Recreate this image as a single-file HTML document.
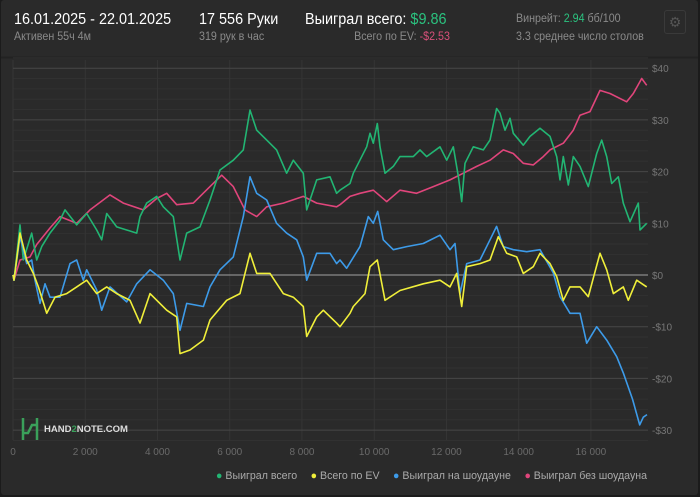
<!DOCTYPE html>
<html><head><meta charset="utf-8"><style>
body{margin:0;background:#1b1b1b;font-family:"Liberation Sans","DejaVu Sans",sans-serif;}
#card{position:absolute;left:1px;top:0;width:697px;height:495px;background:#2a2a2a;border-radius:3px;overflow:hidden}
.t{position:absolute;white-space:nowrap}
.c{transform:scaleX(0.93);transform-origin:left center}
</style></head><body>
<div id="card">
<div class="t c" style="left:13px;top:11px;font-size:15.5px;color:#fff">16.01.2025 - 22.01.2025</div>
<div class="t c" style="left:13px;top:31px;font-size:11.5px;color:#8a8a8a">Активен 55ч 4м</div>
<div class="t c" style="left:198px;top:11px;font-size:15.5px;color:#fff">17 556 Руки</div>
<div class="t c" style="left:198px;top:31px;font-size:11.5px;color:#8a8a8a">319 рук в час</div>
<div class="t c" style="left:304px;top:11px;font-size:15.5px;color:#fff">Выиграл всего: <span style="color:#2bc27f">$9.86</span></div>
<div class="t" style="left:346px;top:31px;font-size:11.5px;color:#8a8a8a;width:101px;text-align:right;transform:scaleX(0.93);transform-origin:right center">Всего по EV: <span style="color:#d9507a">-$2.53</span></div>
<div class="t c" style="left:515px;top:13px;font-size:11.5px;color:#8a8a8a">Винрейт: <span style="color:#2bc27f">2.94</span> бб/100</div>
<div class="t c" style="left:515px;top:31px;font-size:11.5px;color:#8a8a8a">3.3 среднее число столов</div>
<div class="t" style="left:663px;top:10px;width:20px;height:22px;border:1px solid #3a3a3a;border-radius:3px;color:#555;font-size:14px;text-align:center;line-height:22px">⚙</div>
<svg id="chart" width="697" height="497" style="position:absolute;left:0;top:0"></svg>
<div class="t" style="left:20px;top:418px;display:flex;align-items:center">
<svg width="18" height="22"><path d="M2 0v22M16 0v22M2 15h5l4-8h5" stroke="#3aa05a" stroke-width="2.5" fill="none"/></svg>
<span style="font-size:9.5px;font-weight:bold;color:#ddd;margin-left:5px">HAND<span style="color:#3aa05a">2</span>NOTE.COM</span></div>
<div class="t" style="left:215px;top:470px;font-size:11px;color:#aaa;display:flex;gap:14px;transform:scaleX(0.965);transform-origin:left center">
<span><span style="color:#22b573">●</span> Выиграл всего</span>
<span><span style="color:#f0ef3a">●</span> Всего по EV</span>
<span><span style="color:#3d9be9">●</span> Выиграл на шоудауне</span>
<span><span style="color:#e0457b">●</span> Выиграл без шоудауна</span>
</div>
</div>
<script>
const xTicks=[0,2000,4000,6000,8000,10000,12000,14000,16000];
const yTicks=[40,30,20,10,0,-10,-20,-30];
const greenH=[0,28,194,286,517,655,794,1024,1301,1440,1763,2040,2317,2455,2594,2871,3148,3424,3516,3701,3978,4162,4438,4624,4808,5177,5454,5731,6100,6376,6561,6746,7023,7299,7576,7761,8038,8130,8407,8776,8960,9053,9330,9422,9791,9884,9976,10087,10161,10299,10530,10714,11083,11268,11452,11822,12007,12191,12330,12422,12514,12745,13021,13206,13390,13482,13621,13759,13852,14129,14313,14590,14867,15052,15144,15236,15374,15513,15698,15928,16160,16298,16436,16575,16758,16897,17082,17312,17359,17544];
const greenV=[0,-1,9.7,2.9,8.1,2.9,5.5,8.1,10.6,12.6,9.7,11.9,8.7,6.8,11.9,9.3,8.7,8.1,11.3,13.9,15.2,13.2,11.3,2.9,8.1,9.3,14.5,20.3,22.2,24.2,31.9,28,26.1,24.2,19.7,22.2,19.7,12.6,18.4,19,15.8,16.4,17.7,19.7,24.8,27.4,25.5,29.3,24.8,19.7,21,22.9,22.9,24.2,22.9,24.8,22.2,24.8,19,14.2,21.6,24.8,24.2,26.1,32.2,31.3,28,30.3,27.4,25.1,26.8,28.4,26.8,22.9,18.4,22.9,17.4,22.9,21,17.1,23.5,26.1,22.9,17.7,19,13.9,10.3,13.9,8.7,10];
const pinkH=[0,28,194,471,655,1024,1301,1763,2132,2686,3055,3608,3978,4254,4531,4993,5454,5777,6100,6423,6746,7023,7484,8038,8407,8960,9053,9330,9607,9976,10345,10714,11175,11637,12099,12468,12837,13206,13575,13852,14129,14406,14682,14867,15236,15513,15698,15975,16252,16529,16990,17174,17405,17544];
const pinkV=[0,-1,2.9,3.5,5.9,9.1,11.3,10,12.6,15.5,13.9,12.6,14.8,15.8,13.6,13.9,17.1,19.3,17.1,12.6,11.3,13.2,13.9,15.2,13.9,13.2,13.6,15.2,15.8,16.4,14.2,16.4,15.8,17.1,18.4,19.7,21,22.2,24.2,23.5,21.6,21.3,22.9,24.2,25.5,28,30.9,31.6,35.7,35.1,33.5,35.1,38,36.7];
const blueH=[0,28,194,379,517,609,748,886,1024,1301,1578,1763,1947,2040,2317,2455,2686,3148,3424,3793,4162,4438,4624,4808,5270,5454,5731,6100,6376,6561,6746,7023,7299,7576,7853,8038,8130,8407,8776,8960,9053,9237,9607,9837,9976,10096,10253,10530,10899,11360,11822,12099,12237,12376,12560,12930,13206,13390,13575,13852,14221,14590,14959,15144,15421,15698,15882,16160,16436,16713,16900,17150,17350,17450,17552];
const blueV=[0,-1,7.4,2.2,2.9,-1,-5.5,-1.7,-4.3,-4.3,2.2,2.9,-1,1,-2.9,-6.8,-2.3,-5.2,-1.7,1,-1,-3.6,-10.7,-5.5,-6.1,-2.3,1,3.5,11.3,19,15.8,14.5,10,8.1,6.8,3.5,-1,4.2,4.2,2.2,2.9,1.3,5.5,11.3,10,12.3,6.8,4.9,5.5,6.1,7.7,4.9,6.1,-3.6,2.2,2.9,6.8,9.4,5.5,4.9,4.5,4.9,0.4,-4.2,-7.4,-7.4,-13.2,-10,-12.6,-15.8,-19,-24,-29,-27.5,-27];
const yelH=[0,28,194,379,563,702,932,1163,1486,1763,2040,2317,2594,2871,3240,3516,3793,4254,4531,4624,4901,5270,5454,5916,6285,6561,6746,7115,7484,7761,8038,8130,8407,8591,8960,9053,9330,9422,9745,9884,10087,10299,10714,11360,11822,12099,12284,12422,12560,12930,13206,13437,13667,13944,14129,14406,14590,14867,15052,15236,15421,15698,15928,16252,16436,16621,16897,17036,17267,17544];
const yelV=[0,-1,8.1,2.9,0.3,-2.3,-7.4,-4.3,-3.6,-2.3,-1,-3.6,-2.3,-3.6,-4.9,-9.3,-3.6,-6.8,-8.1,-15.2,-14.5,-12.6,-8.7,-4.9,-3.6,4.2,0.3,0.3,-3.6,-4.3,-6.1,-11.9,-8.1,-6.8,-9.3,-10,-7.4,-6.1,-3.6,1.6,2.9,-4.9,-3,-1.7,-1,-2.3,0.3,-6.1,1.6,2.2,2.9,7.4,4.2,3.5,0.3,1.6,4.2,2.2,-0.3,-4.9,-2.3,-2.3,-4.2,4.2,1,-3.6,-2.3,-4.9,-1,-2.3];
const NS='http://www.w3.org/2000/svg';
const svg=document.getElementById('chart');
const X0=12,PX=0.03612,Y0=275,PY=5.17,L=12,R=647,T=60,B=440;
function sx(h){return X0+h*PX;}
function sy(v){return Y0-v*PY;}
function el(tag,a){const e=document.createElementNS(NS,tag);for(const k in a)e.setAttribute(k,a[k]);svg.appendChild(e);return e;}
const hdr=el('line',{x1:0,x2:697,y1:57.5,y2:57.5,stroke:'#222','stroke-width':2});


for(let v=-32;v<=42;v+=2){if(v%10===0)continue;const ln=el('line',{x1:L,x2:R,y1:sy(v),y2:sy(v),stroke:'#313131','stroke-width':1});

}
xTicks.forEach(h=>{const ln=el('line',{x1:sx(h),x2:sx(h),y1:T,y2:B,stroke:'#353535'});


const t=el('text',{x:sx(h),y:455,fill:'#6a6a6a','font-size':10,'text-anchor':'middle','font-family':'Liberation Sans'});t.textContent=h===0?'0':(h/1000)+' 000';

});
yTicks.forEach(v=>{const ln=el('line',{x1:L,x2:R,y1:sy(v),y2:sy(v),stroke:v===0?'#8a8a8a':'#474747','stroke-width':v===0?1.3:1});


const t=el('text',{x:651,y:sy(v)+4,fill:'#777','font-size':10,'font-family':'Liberation Sans'});t.textContent=(v<0?'-$':'$')+Math.abs(v);

});
function series(H,V,c,name){const p=el('polyline',{points:H.map((h,i)=>sx(h).toFixed(1)+','+sy(V[i]).toFixed(1)).join(' '),fill:'none',stroke:c,'stroke-width':1.6,'stroke-linejoin':'round'});

}
series(pinkH,pinkV,'#e0457b','non-showdown-line');
series(greenH,greenV,'#22b573','total-won-line');
series(blueH,blueV,'#3d9be9','showdown-line');
series(yelH,yelV,'#f0ef3a','ev-line');
</script>
</body></html>
